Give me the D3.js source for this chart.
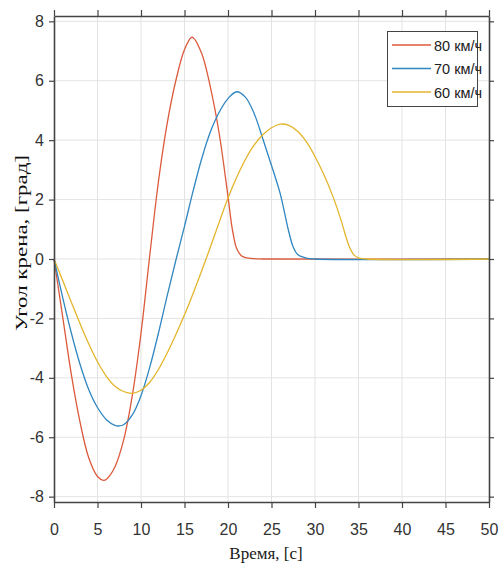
<!DOCTYPE html>
<html>
<head>
<meta charset="utf-8">
<script src="https://cdn.jsdelivr.net/npm/d3@7"></script>
<style>
  html, body { margin: 0; padding: 0; background: #fff; }
  svg { display: block; }
</style>
</head>
<body>
<svg id="chart" width="500" height="564"></svg>
<script>
// Roll angle responses for three vehicle speeds
const seriesNames = ["80 км/ч", "70 км/ч", "60 км/ч"];
const seriesColors = ["#dc5a3c", "#2f86c0", "#e3b52c"];

const time80 = [0, 1, 2, 3, 4, 5, 5.7, 6, 7, 8, 9, 10, 11, 12, 13, 14, 15, 15.8, 16, 17, 18, 19, 20, 20.5, 21, 21.5, 22, 23, 24, 50];
const roll80 = [0, -1.95, -3.9, -5.5, -6.7, -7.32, -7.45, -7.42, -7.0, -6.1, -4.6, -2.5, 0.1, 2.6, 4.55, 6.0, 7.05, 7.46, 7.45, 6.9, 5.75, 4.2, 2.1, 1.0, 0.35, 0.12, 0.05, 0.01, 0, 0];

const time70 = [0, 1, 2, 3, 4, 5, 6, 7, 7.5, 8, 9, 10, 11, 12, 13, 14, 15, 16, 17, 18, 19, 20, 21, 22, 23, 24, 25, 26, 27, 27.5, 28, 29, 30, 50];
const roll70 = [0, -1.3, -2.5, -3.55, -4.4, -5.0, -5.4, -5.6, -5.62, -5.58, -5.25, -4.6, -3.65, -2.5, -1.25, -0.05, 1.1, 2.3, 3.4, 4.3, 4.95, 5.4, 5.63, 5.45, 4.9, 4.05, 3.15, 2.2, 0.9, 0.4, 0.15, 0.03, 0, 0];

const time60 = [0, 1, 2, 3, 4, 5, 6, 7, 8, 9, 10, 11, 12, 13, 14, 15, 16, 17, 18, 19, 20, 21, 22, 23, 24, 25, 26, 27, 28, 29, 30, 31, 32, 33, 33.5, 34, 34.5, 35, 36, 50];
const roll60 = [0, -0.72, -1.46, -2.18, -2.86, -3.46, -3.94, -4.28, -4.46, -4.52, -4.42, -4.15, -3.72, -3.17, -2.55, -1.88, -1.15, -0.38, 0.42, 1.25, 2.05, 2.75, 3.35, 3.83, 4.18, 4.42, 4.54, 4.5, 4.3, 3.95, 3.45, 2.85, 2.15, 1.3, 0.8, 0.38, 0.13, 0.04, 0, 0];

const xTicks = [0, 5, 10, 15, 20, 25, 30, 35, 40, 45, 50];
const yTicks = [-8, -6, -4, -2, 0, 2, 4, 6, 8];
const xTitle = "Время, [с]";
const yTitle = "Угол крена, [град]";

const series = [
  { name: seriesNames[0], color: seriesColors[0], t: time80, v: roll80 },
  { name: seriesNames[1], color: seriesColors[1], t: time70, v: roll70 },
  { name: seriesNames[2], color: seriesColors[2], t: time60, v: roll60 }
];

const plot = { left: 54, right: 489, top: 16, bottom: 502 };
const svg = d3.select("#chart");

const x = d3.scaleLinear().domain([0, 50]).range([plot.left, plot.right]);
const y = d3.scaleLinear().domain([-8.18, 8.18]).range([plot.bottom, plot.top]);

const tickFont = "'Liberation Sans Narrow', 'Arial Narrow', 'Liberation Sans', Arial, sans-serif";
const titleFont = "'Liberation Serif', 'Times New Roman', 'DejaVu Serif', serif";

// grid
const grid = svg.append("g").attr("stroke", "#e3e3e3").attr("stroke-width", 1);
grid.selectAll("line.gx").data(xTicks.slice(1, -1)).join("line")
  .attr("x1", d => x(d)).attr("x2", d => x(d))
  .attr("y1", plot.top).attr("y2", plot.bottom);
grid.selectAll("line.gy").data(yTicks).join("line")
  .attr("x1", plot.left).attr("x2", plot.right)
  .attr("y1", d => y(d)).attr("y2", d => y(d));

// data lines
const line = d3.line()
  .x(d => x(d[0]))
  .y(d => y(d[1]))
  .curve(d3.curveCatmullRom.alpha(0.5));

svg.append("g").selectAll("path").data(series).join("path")
  .attr("fill", "none")
  .attr("stroke", d => d.color)
  .attr("stroke-width", 1.3)
  .attr("d", d => line(d.t.map((t, i) => [t, d.v[i]])));

// axes on all four sides, ticks pointing outward
function styleAxis(g) {
  g.select(".domain").attr("stroke", "#444").attr("stroke-width", 1.6);
  g.selectAll(".tick line").attr("stroke", "#444").attr("stroke-width", 1.2);
  g.selectAll(".tick text")
    .attr("fill", "#333")
    .style("font-family", tickFont)
    .style("font-size", "16px");
}

svg.append("g")
  .attr("transform", `translate(0,${plot.bottom})`)
  .call(d3.axisBottom(x).tickValues(xTicks).tickSize(6).tickSizeOuter(0).tickPadding(16).tickFormat(d => String(d)))
  .call(styleAxis);

svg.append("g")
  .attr("transform", `translate(0,${plot.top})`)
  .call(d3.axisTop(x).tickValues(xTicks).tickSize(6).tickSizeOuter(0).tickFormat(""))
  .call(styleAxis);

svg.append("g")
  .attr("transform", `translate(${plot.left},0)`)
  .call(d3.axisLeft(y).tickValues(yTicks).tickSize(5).tickSizeOuter(0).tickPadding(5).tickFormat(d => String(d)))
  .call(styleAxis);

svg.append("g")
  .attr("transform", `translate(${plot.right},0)`)
  .call(d3.axisRight(y).tickValues(yTicks).tickSize(5).tickSizeOuter(0).tickFormat(""))
  .call(styleAxis);

// axis titles
svg.append("text")
  .attr("x", 266).attr("y", 559)
  .attr("text-anchor", "middle")
  .attr("fill", "#1a1a1a")
  .style("font-family", titleFont)
  .style("font-size", "17px")
  .text(xTitle);

svg.append("text")
  .attr("transform", "translate(27,243) rotate(-90)")
  .attr("text-anchor", "middle")
  .attr("fill", "#111")
  .attr("textLength", 176)
  .attr("lengthAdjust", "spacingAndGlyphs")
  .style("font-family", titleFont)
  .style("font-size", "17px")
  .text(yTitle);

// legend
const legend = svg.append("g");
legend.append("rect")
  .attr("x", 387.5).attr("y", 31.5)
  .attr("width", 90).attr("height", 75)
  .attr("fill", "#fff")
  .attr("stroke", "#444")
  .attr("stroke-width", 1);

const rows = legend.selectAll("g.row").data(series).join("g")
  .attr("transform", (d, i) => `translate(0,${45 + i * 23.5})`);
rows.append("line")
  .attr("x1", 392).attr("x2", 431)
  .attr("y1", 0).attr("y2", 0)
  .attr("stroke", d => d.color)
  .attr("stroke-width", 1.3);
rows.append("text")
  .attr("x", 434).attr("y", 5.5)
  .attr("fill", "#222")
  .style("font-family", tickFont)
  .style("font-size", "14.5px")
  .text(d => d.name);
</script>
</body>
</html>
